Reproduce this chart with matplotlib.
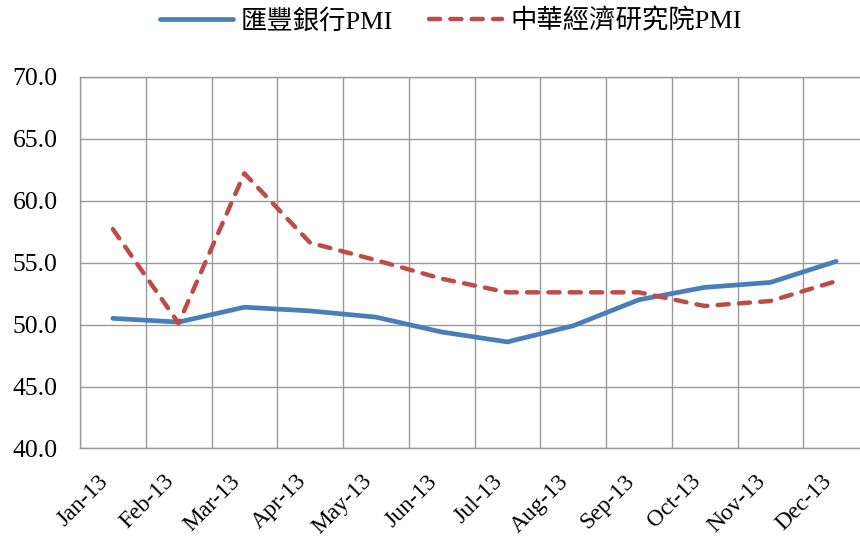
import matplotlib
matplotlib.use("Agg")
import matplotlib.pyplot as plt
import matplotlib.transforms as mtransforms
import numpy as np

# Monthly PMI readings, 2013
months = ["Jan-13", "Feb-13", "Mar-13", "Apr-13", "May-13", "Jun-13",
          "Jul-13", "Aug-13", "Sep-13", "Oct-13", "Nov-13", "Dec-13"]
hsbc_pmi = [50.5, 50.2, 51.4, 51.1, 50.6, 49.4, 48.6, 49.9, 52.0, 53.0, 53.4, 55.1]
cfle_pmi = [57.7, 50.1, 62.2, 56.6, 55.2, 53.7, 52.6, 52.6, 52.6, 51.5, 51.9, 53.5]
series_names = ["匯豐銀行PMI", "中華經濟研究院PMI"]
y_ticks = [40.0, 45.0, 50.0, 55.0, 60.0, 65.0, 70.0]

plt.rcParams["font.family"] = ["Liberation Serif", "Noto Sans CJK TC", "DejaVu Sans"]

fig = plt.figure(figsize=(8.6, 5.38), dpi=100)
ax = fig.add_axes([80 / 860, 0.1664, 789 / 860, 0.691])

x = np.arange(len(months))
grid_color = "#999999"

ax.plot(x, hsbc_pmi, color="#4A7EBB", lw=3.4, solid_joinstyle="round",
        solid_capstyle="round", label=series_names[0], zorder=3)
ax.plot(x, cfle_pmi, color="#BE4B48", lw=3.2, dashes=(2.5, 2.3),
        dash_capstyle="round", dash_joinstyle="round",
        label=series_names[1], zorder=4)

ax.set_xlim(-0.5, len(months) - 0.5)
ax.set_ylim(y_ticks[0], y_ticks[-1])
ax.set_yticks(y_ticks)
ax.set_yticklabels([f"{v:.1f}" for v in y_ticks], fontsize=18.5)

ax.set_xticks(x)
ax.set_xticks(np.arange(-0.5, len(months), 1.0), minor=True)
ax.set_xticklabels(months, fontsize=17, rotation=45, ha="right", va="top")
offset = mtransforms.ScaledTranslation(4 / 100, 0, fig.dpi_scale_trans)
for lbl in ax.get_xticklabels():
    lbl.set_transform(lbl.get_transform() + offset)

ax.tick_params(axis="both", which="both", length=0)
ax.tick_params(axis="y", pad=16)
ax.tick_params(axis="x", pad=16)

ax.grid(axis="y", which="major", color=grid_color, lw=1.0)
ax.grid(axis="x", which="minor", color=grid_color, lw=1.0)
ax.set_axisbelow(True)
for sp in ax.spines.values():
    sp.set_color(grid_color)
    sp.set_linewidth(1.0)

fig.legend(loc="center", bbox_to_anchor=(0.524, 0.961), ncol=2, frameon=False,
           fontsize=19, handlelength=2.77, handletextpad=0.3,
           columnspacing=1.36)

fig.savefig("out.png", dpi=100)
